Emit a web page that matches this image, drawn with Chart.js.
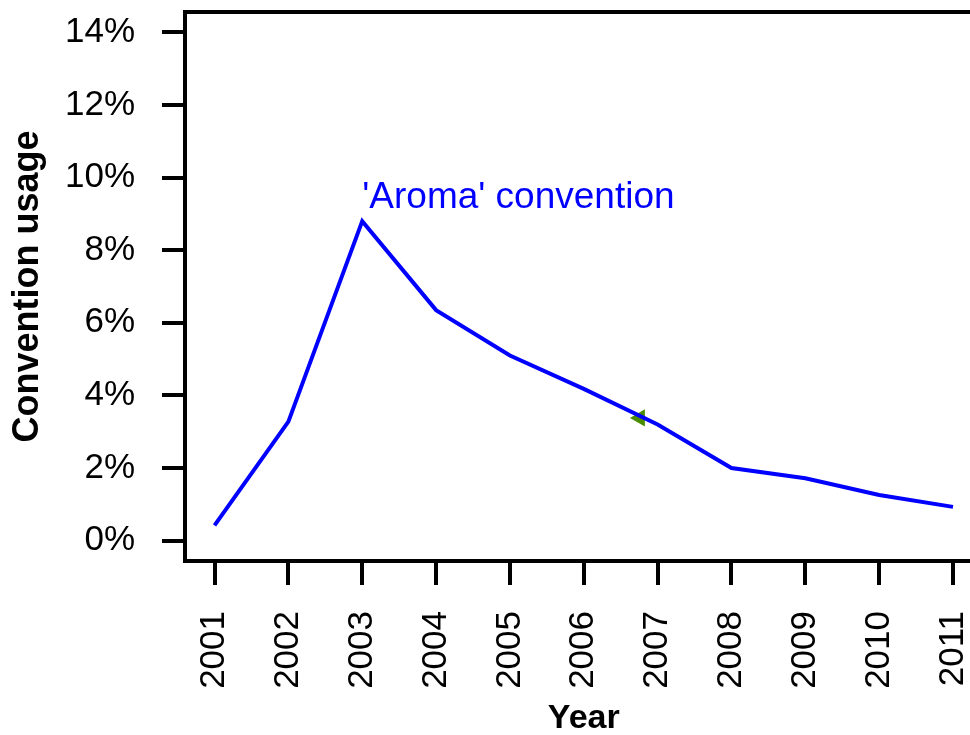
<!DOCTYPE html>
<html>
<head>
<meta charset="utf-8">
<script src="https://cdn.jsdelivr.net/npm/chart.js@4"></script>
<style>
  html, body { margin: 0; padding: 0; background: #fff; }
  #wrap { width: 970px; height: 735px; }
</style>
</head>
<body>
<div id="wrap"><canvas id="chart" width="970" height="735"></canvas></div>
<script>
const years = [2001, 2002, 2003, 2004, 2005, 2006, 2007, 2008, 2009, 2010, 2011];
const aromaUsage = [0.42, 3.28, 8.8, 6.35, 5.1, 4.18, 3.2, 2.0, 1.72, 1.26, 0.93];
const yTickValues = [0, 2, 4, 6, 8, 10, 12, 14];
const markerYear = [2006.76];
const markerUsage = [3.38];
const seriesLabel = "'Aroma' convention";

const FONT = "'Liberation Sans', Arial, Helvetica, sans-serif";

// top edge of the box, the series label and the x axis title
const extras = {
  id: 'extras',
  afterDatasetsDraw(chart) {
    const { ctx, chartArea, scales } = chart;
    ctx.save();
    ctx.strokeStyle = '#000';
    ctx.lineWidth = 4;
    ctx.beginPath();
    ctx.moveTo(chartArea.left - 2, chartArea.top);
    ctx.lineTo(chartArea.right + 2, chartArea.top);
    ctx.stroke();

    ctx.fillStyle = '#0000ff';
    ctx.font = '37px ' + FONT;
    ctx.textAlign = 'left';
    ctx.textBaseline = 'middle';
    ctx.fillText(seriesLabel, scales.x.getPixelForValue(2003), scales.y.getPixelForValue(9.45));

    // the box runs on past the right edge of the canvas, centre the title on it
    const boxRight = scales.x.getPixelForValue(2011.4);
    ctx.fillStyle = '#000';
    ctx.font = 'bold 34px ' + FONT;
    ctx.textAlign = 'center';
    ctx.textBaseline = 'alphabetic';
    ctx.fillText('Year', (chartArea.left + boxRight) / 2, 728);
    ctx.restore();
  }
};

new Chart(document.getElementById('chart'), {
  type: 'line',
  data: {
    datasets: [
      {
        label: seriesLabel,
        data: years.map((y, i) => ({ x: y, y: aromaUsage[i] })),
        borderColor: '#0000ff',
        borderWidth: 4,
        pointRadius: 0,
        tension: 0,
        order: 0
      },
      {
        label: 'marker',
        data: markerYear.map((y, i) => ({ x: y, y: markerUsage[i] })),
        showLine: false,
        pointStyle: 'triangle',
        rotation: 270,
        pointRadius: 10,
        backgroundColor: '#4a8c00',
        borderColor: '#4a8c00',
        borderWidth: 0,
        order: 1
      }
    ]
  },
  options: {
    responsive: false,
    animation: false,
    layout: { autoPadding: false, padding: { top: 12, right: 0, left: 0, bottom: 0 } },
    plugins: { legend: { display: false }, tooltip: { enabled: false } },
    scales: {
      x: {
        type: 'linear',
        min: 2000.6,
        max: 2011.23,
        afterBuildTicks(scale) { scale.ticks = years.map(v => ({ value: v })); },
        afterFit(scale) { scale.height = 174; scale.paddingLeft = 0; scale.paddingRight = 0; },
        ticks: {
          minRotation: 90, maxRotation: 90, autoSkip: false,
          color: '#000', padding: 26,
          font: { family: FONT, size: 35 },
          callback: v => String(v)
        },
        grid: { drawOnChartArea: false, drawTicks: true, tickLength: 24, lineWidth: 4, color: '#000' },
        border: { display: true, color: '#000', width: 4 },
        title: { display: false }
      },
      y: {
        type: 'linear',
        min: -0.56,
        max: 14.56,
        afterBuildTicks(scale) { scale.ticks = yTickValues.map(v => ({ value: v })); },
        afterFit(scale) { scale.width = 185; scale.paddingTop = 0; scale.paddingBottom = 0; },
        ticks: {
          color: '#000', padding: 27,
          font: { family: FONT, size: 35 },
          callback: v => v + '%'
        },
        grid: { drawOnChartArea: false, drawTicks: true, tickLength: 23, lineWidth: 4, color: '#000' },
        border: { display: true, color: '#000', width: 4 },
        title: { display: true, text: 'Convention usage', color: '#000', padding: 6,
                 font: { family: FONT, size: 36, weight: 'bold', lineHeight: 1.2 } }
      }
    }
  },
  plugins: [extras]
});
</script>
</body>
</html>
